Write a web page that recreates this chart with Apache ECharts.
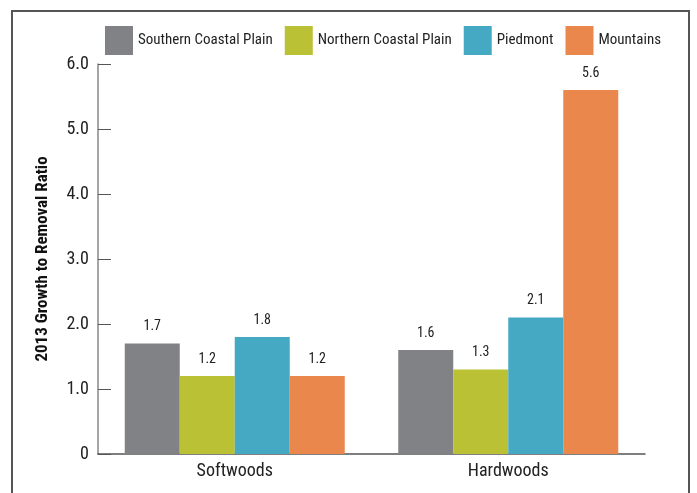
<!DOCTYPE html>
<html><head><meta charset="utf-8">
<script src="https://cdn.jsdelivr.net/npm/echarts@6/dist/echarts.min.js"></script>
<style>html,body{margin:0;padding:0;background:#fff}#frame{position:absolute;left:11px;top:10px;width:679px;height:500px;border:2px solid #555;box-sizing:border-box}#c{position:absolute;left:0;top:0;width:697px;height:493px}</style>
</head><body>
<div id="frame"></div>
<div id="c"></div>
<script>
const categories = ['Softwoods', 'Hardwoods'];
const seriesNames = ['Southern Coastal Plain', 'Northern Coastal Plain', 'Piedmont', 'Mountains'];
const southernCoastal = [1.7, 1.6];
const northernCoastal = [1.2, 1.3];
const piedmont = [1.8, 2.1];
const mountains = [1.2, 5.6];
const yTicks = ['0', '1.0', '2.0', '3.0', '4.0', '5.0', '6.0'];
const colors = ['#808285', '#BBC134', '#45A9C4', '#E9874D'];
const values = [southernCoastal, northernCoastal, piedmont, mountains];
const font = "'Liberation Sans Narrow', 'Roboto Condensed', 'Liberation Sans', sans-serif";

const chart = echarts.init(document.getElementById('c'));
chart.setOption({
  animation: false,
  textStyle: { fontFamily: font },
  legend: {
    left: 100, top: 21, itemWidth: 28, itemHeight: 29, itemGap: 12,
    icon: 'rect',
    textStyle: { fontFamily: font, fontSize: 15, color: '#222' },
    data: seriesNames
  },
  grid: { left: 98, right: 52, top: 64, bottom: 39, containLabel: false },
  xAxis: {
    type: 'category', data: categories,
    axisLine: { lineStyle: { color: '#555', width: 1.5 } },
    axisTick: { show: false },
    axisLabel: { fontFamily: font, fontSize: 18, color: '#222', margin: 8 }
  },
  yAxis: {
    type: 'value', min: 0, max: 6, interval: 1,
    name: '2013 Growth to Removal Ratio', nameLocation: 'middle', nameGap: 47,
    nameTextStyle: { fontFamily: font, fontSize: 17, fontWeight: 'bold', color: '#111' },
    axisLine: { show: true, lineStyle: { color: '#888', width: 1.5 } },
    axisTick: { show: true, inside: true, length: 13, lineStyle: { color: '#555', width: 1 } },
    splitLine: { show: false },
    axisLabel: { fontFamily: font, fontSize: 18, color: '#222', margin: 9,
      formatter: v => yTicks[Math.round(v)] }
  },
  series: seriesNames.map((n, i) => ({
    name: n, type: 'bar', data: values[i], barWidth: 55, barGap: '0%',
    itemStyle: { color: colors[i] },
    label: { show: true, position: 'top', distance: 10, fontFamily: font, fontSize: 14, color: '#222',
      formatter: p => p.value.toFixed(1) }
  }))
});
</script>
</body></html>
